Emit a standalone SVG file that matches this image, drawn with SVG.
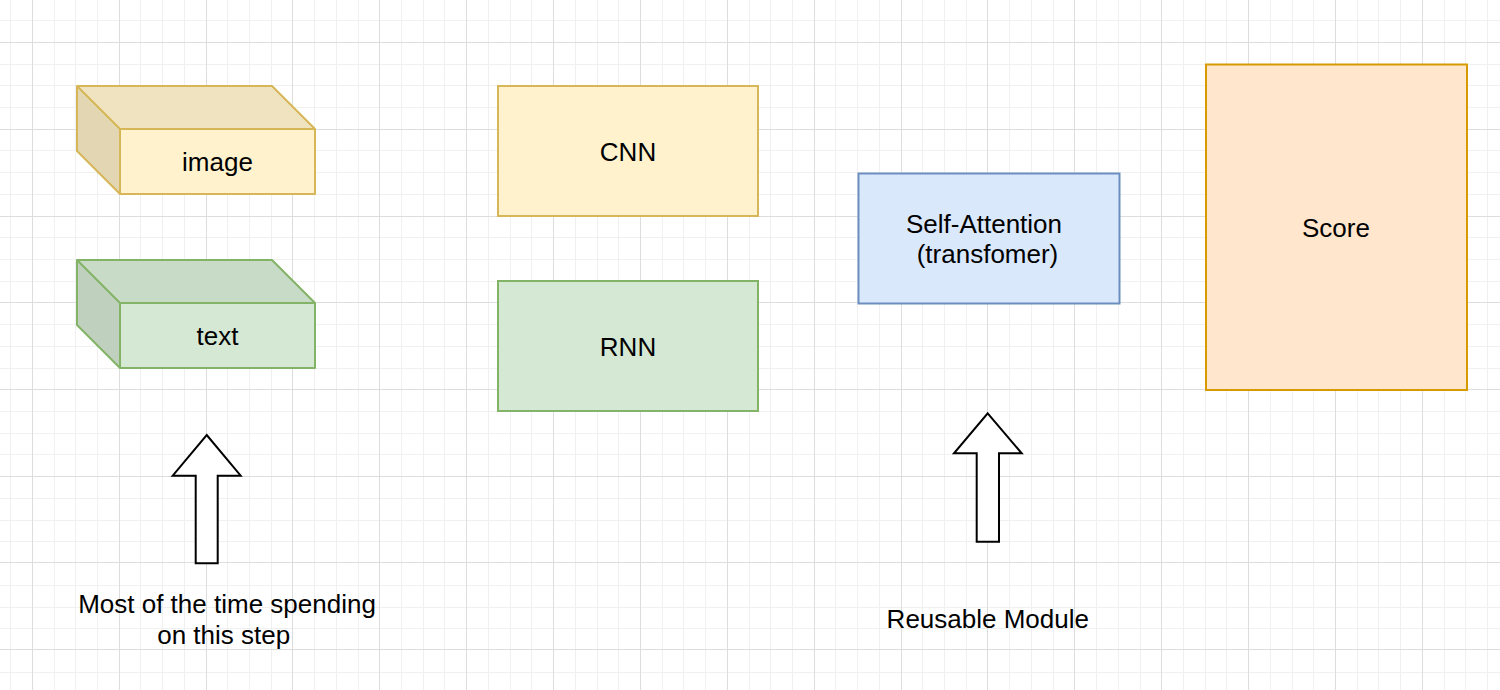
<svg xmlns="http://www.w3.org/2000/svg" width="1500" height="690" viewBox="0 0 1500 690">
<style>
  .lbl { font-family: "Liberation Sans", Arial, Helvetica, sans-serif; font-size: 26px; fill: #000; text-anchor: middle; }
  .yel { fill: #fff2cc; stroke: #d6b656; stroke-width: 2; }
  .grn { fill: #d5e8d4; stroke: #82b366; stroke-width: 2; }
  .blu { fill: #dae8fc; stroke: #6c8ebf; stroke-width: 2; }
  .org { fill: #ffe6cc; stroke: #d79b00; stroke-width: 2; }
  .arw { fill: #ffffff; stroke: #000000; stroke-width: 2; stroke-linejoin: miter; }
  .gmin { stroke: #f0f0f0; stroke-width: 1; fill: none; }
  .gmaj { stroke: #dddddd; stroke-width: 1; fill: none; }
</style>
<rect width="1500" height="690" fill="#ffffff"/>
<g id="grid">
  <path class="gmin" d="M10.5 0V690M54.5 0V690M75.5 0V690M97.5 0V690M140.5 0V690M162.5 0V690M184.5 0V690M227.5 0V690M249.5 0V690M271.5 0V690M314.5 0V690M336.5 0V690M358.5 0V690M401.5 0V690M423.5 0V690M444.5 0V690M488.5 0V690M510.5 0V690M531.5 0V690M575.5 0V690M597.5 0V690M618.5 0V690M662.5 0V690M683.5 0V690M705.5 0V690M749.5 0V690M770.5 0V690M792.5 0V690M835.5 0V690M857.5 0V690M879.5 0V690M922.5 0V690M944.5 0V690M966.5 0V690M1009.5 0V690M1031.5 0V690M1053.5 0V690M1096.5 0V690M1118.5 0V690M1140.5 0V690M1183.5 0V690M1205.5 0V690M1226.5 0V690M1270.5 0V690M1292.5 0V690M1313.5 0V690M1357.5 0V690M1378.5 0V690M1400.5 0V690M1444.5 0V690M1465.5 0V690M1487.5 0V690
  M0 20.5H1500M0 64.5H1500M0 85.5H1500M0 107.5H1500M0 150.5H1500M0 172.5H1500M0 194.5H1500M0 237.5H1500M0 259.5H1500M0 281.5H1500M0 324.5H1500M0 346.5H1500M0 368.5H1500M0 411.5H1500M0 433.5H1500M0 454.5H1500M0 498.5H1500M0 520.5H1500M0 541.5H1500M0 585.5H1500M0 607.5H1500M0 628.5H1500M0 672.5H1500"/>
  <path class="gmaj" d="M32.5 0V690M119.5 0V690M206.5 0V690M292.5 0V690M379.5 0V690M466.5 0V690M553.5 0V690M640.5 0V690M727.5 0V690M814.5 0V690M901.5 0V690M987.5 0V690M1074.5 0V690M1161.5 0V690M1248.5 0V690M1335.5 0V690M1422.5 0V690
  M0 42.5H1500M0 129.5H1500M0 216.5H1500M0 302.5H1500M0 389.5H1500M0 476.5H1500M0 562.5H1500M0 649.5H1500"/>
</g>

<g id="image">
  <polygon points="77,86 272,86 315,129 120,129" fill="#f0e4c0" stroke="none"/>
  <polygon points="77,86 120,129 120,194 77,151" fill="#e3d7b3" stroke="none"/>
  <rect x="120" y="129" width="195" height="65" fill="#fff2cc" stroke="none"/>
  <path d="M77 86H272L315 129V194H120L77 151Z M77 86L120 129H315 M120 129V194" fill="none" stroke="#d6b656" stroke-width="2" stroke-linejoin="round"/>
  <text class="lbl" x="217.5" y="171">image</text>
</g>

<g id="text">
  <polygon points="77,260 272,260 315,303 120,303" fill="#c8dbc7" stroke="none"/>
  <polygon points="77,260 120,303 120,368 77,325" fill="#bfd1be" stroke="none"/>
  <rect x="120" y="303" width="195" height="65" fill="#d5e8d4" stroke="none"/>
  <path d="M77 260H272L315 303V368H120L77 325Z M77 260L120 303H315 M120 303V368" fill="none" stroke="#82b366" stroke-width="2" stroke-linejoin="round"/>
  <text class="lbl" x="217.5" y="345">text</text>
</g>

<g id="cnn">
  <rect class="yel" x="498" y="86" width="260" height="130"/>
  <text class="lbl" x="628" y="160.5">CNN</text>
</g>

<g id="rnn">
  <rect class="grn" x="498" y="281" width="260" height="130"/>
  <text class="lbl" x="628" y="355.5">RNN</text>
</g>

<g id="self-attention">
  <rect class="blu" x="858.5" y="173.5" width="261" height="130"/>
  <text class="lbl" x="984" y="232.5">Self-Attention</text>
  <text class="lbl" x="987.5" y="262.5">(transfomer)</text>
</g>

<g id="score">
  <rect class="org" x="1206" y="64.5" width="261" height="325.5"/>
  <text class="lbl" x="1336" y="236.5">Score</text>
</g>

<g id="arrow-left">
  <polygon class="arw" points="206.7,435 240.7,475.7 217.7,475.7 217.7,563.3 195.7,563.3 195.7,475.7 172.7,475.7"/>
</g>

<g id="arrow-right">
  <polygon class="arw" points="987.7,413.3 1021.7,453.3 999,453.3 999,541.7 976.7,541.7 976.7,453.3 954,453.3"/>
</g>

<g id="connectors"></g>

<g id="note-left">
  <text class="lbl" x="227" y="612.5">Most of the time spending</text>
  <text class="lbl" x="223.7" y="643.5">on this step</text>
</g>

<g id="note-right">
  <text class="lbl" x="987.8" y="627.5">Reusable Module</text>
</g>
</svg>
